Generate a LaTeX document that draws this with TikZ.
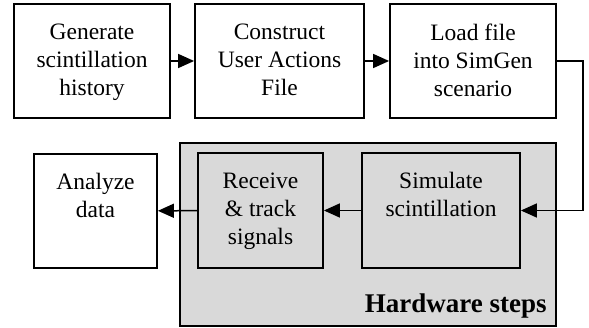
\documentclass[tikz,border=0pt]{standalone}
\usepackage{fontspec}
\setmainfont{Liberation Serif}
\usetikzlibrary{arrows.meta}
\definecolor{hwgray}{RGB}{217,217,217}
\begin{document}
\begin{tikzpicture}[x=1pt, y=-1pt,
    every node/.style={font=\fontsize{23.5}{28}\selectfont},
    stepbox/.style={draw, line width=1.8pt, inner sep=0pt},
    steptext/.style={label={[anchor=north, align=center, yshift=-17pt]north:#1}},
    flow/.style={line width=1.5pt, -{Triangle[length=16pt, width=14pt]}}]
  \useasboundingbox (0,0) rectangle (589,328);
  % software steps
  \node [stepbox, minimum width=156, minimum height=114,
    steptext={Generate\\scintillation\\history}] (gen) at (92, 61) {};
  \node [stepbox, minimum width=169, minimum height=114,
    steptext={Construct\\User Actions\\File}] (cons) at (279.5, 61) {};
  \node [stepbox, minimum width=166, minimum height=114,
    steptext={Load file\\into SimGen\\scenario}] (load) at (473, 61) {};
  \node [stepbox, minimum width=123, minimum height=114,
    steptext={Analyze\\data}] (ana) at (95.5, 211) {};
  % hardware steps
  \node [stepbox, fill=hwgray, minimum width=376, minimum height=183] (hw) at (368, 234.5) {};
  \node [stepbox, fill=hwgray, minimum width=125, minimum height=115,
    steptext={Receive\\\& track\\signals}] (rec) at (260.5, 210.5) {};
  \node [stepbox, fill=hwgray, minimum width=158, minimum height=115,
    steptext={Simulate\\scintillation}] (sim) at (441, 210.5) {};
  \node [font=\fontsize{27}{30}\selectfont\bfseries, anchor=base east, inner sep=0pt]
    (hwname) at ([xshift=-10pt, yshift=14pt]hw.south east) {Hardware steps};
  % connectors
  \draw [flow] (gen) -- (cons);
  \draw [flow] (cons) -- (load);
  \draw [flow] (load.east) -- ++(26,0) |- (sim.east);
  \draw [flow] (sim) -- (rec);
  \draw [flow] (rec) -- (ana);
\end{tikzpicture}
\end{document}
